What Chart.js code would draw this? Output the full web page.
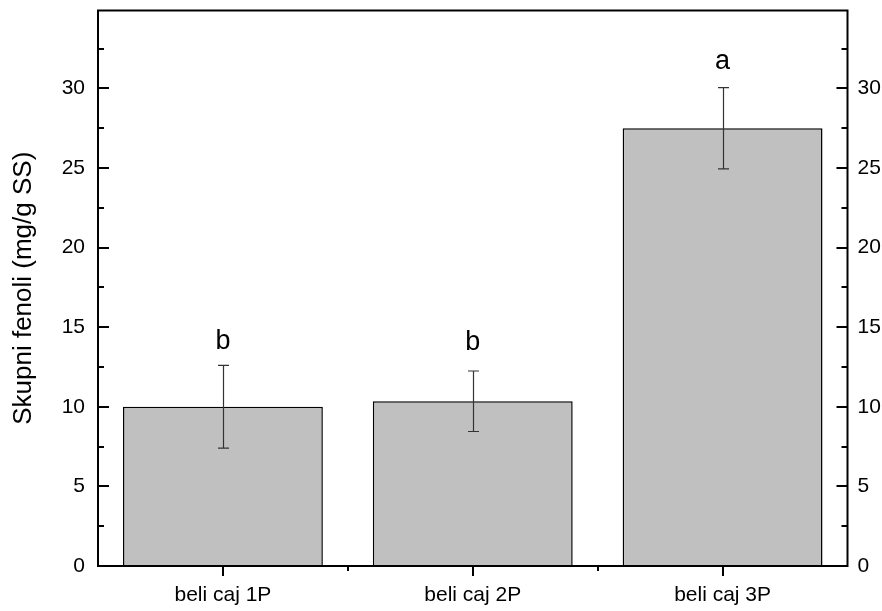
<!DOCTYPE html>
<html>
<head>
<meta charset="utf-8">
<script src="https://cdn.jsdelivr.net/npm/chart.js@4.4.1/dist/chart.umd.min.js"></script>
<style>
  html, body { margin: 0; padding: 0; background: #fff; }
  #wrap { width: 882px; height: 611px; }
</style>
</head>
<body>
<div id="wrap"><canvas id="c" width="882" height="611"></canvas></div>
<script>
const categories = ['beli caj 1P', 'beli caj 2P', 'beli caj 3P'];
const values = [10.0, 10.35, 27.5];
const errors = [2.6, 1.9, 2.55];
const letters = ['b', 'b', 'a'];
const letterY = [13.65, 13.55, 31.2];
const yTicks = [0, 5, 10, 15, 20, 25, 30];
const yMinorTicks = [2.5, 7.5, 12.5, 17.5, 22.5, 27.5, 32.5];
const yTitle = 'Skupni fenoli (mg/g SS)';
const yMax = 34.9;

const FONT = "'Liberation Sans', Arial, sans-serif";

const decor = {
  id: 'decor',
  afterDatasetsDraw(chart) {
    const ctx = chart.ctx;
    const a = chart.chartArea;
    const x = chart.scales.x, y = chart.scales.y;
    ctx.save();
    // error bars
    ctx.strokeStyle = '#333';
    ctx.lineWidth = 1.2;
    values.forEach((v, i) => {
      const px = Math.round(x.getPixelForValue(i)) + 0.5;
      const yt = y.getPixelForValue(v + errors[i]);
      const yb = y.getPixelForValue(v - errors[i]);
      ctx.beginPath();
      ctx.moveTo(px, yt); ctx.lineTo(px, yb);
      ctx.moveTo(px - 5.5, yt); ctx.lineTo(px + 5.5, yt);
      ctx.moveTo(px - 5.5, yb); ctx.lineTo(px + 5.5, yb);
      ctx.stroke();
    });
    // letters
    ctx.fillStyle = '#000';
    ctx.font = '27px ' + FONT;
    ctx.textAlign = 'center';
    ctx.textBaseline = 'alphabetic';
    letters.forEach((t, i) => {
      ctx.fillText(t, x.getPixelForValue(i), y.getPixelForValue(letterY[i]));
    });
    // frame
    ctx.strokeStyle = '#000';
    ctx.lineWidth = 2;
    ctx.strokeRect(a.left, a.top, a.right - a.left, a.bottom - a.top);
    // y ticks inward (left and right)
    ctx.beginPath();
    yTicks.forEach(t => {
      const py = Math.round(y.getPixelForValue(t));
      ctx.moveTo(a.left, py); ctx.lineTo(a.left + 11, py);
      ctx.moveTo(a.right, py); ctx.lineTo(a.right - 11, py);
    });
    yMinorTicks.forEach(t => {
      const py = Math.round(y.getPixelForValue(t));
      ctx.moveTo(a.left, py); ctx.lineTo(a.left + 6, py);
      ctx.moveTo(a.right, py); ctx.lineTo(a.right - 6, py);
    });
    // x ticks outward
    categories.forEach((c, i) => {
      const px = Math.round(x.getPixelForValue(i));
      ctx.moveTo(px, a.bottom); ctx.lineTo(px, a.bottom + 10);
    });
    for (let i = 0; i < categories.length - 1; i++) {
      const px = Math.round((x.getPixelForValue(i) + x.getPixelForValue(i + 1)) / 2);
      ctx.moveTo(px, a.bottom); ctx.lineTo(px, a.bottom + 5);
    }
    ctx.stroke();
    ctx.restore();
  }
};

function noPad(s) { s.paddingTop = 0; s.paddingBottom = 0; s.paddingLeft = 0; s.paddingRight = 0; }

new Chart(document.getElementById('c'), {
  type: 'bar',
  data: {
    labels: categories,
    datasets: [{
      data: values,
      backgroundColor: '#c0c0c0',
      borderColor: '#000',
      borderWidth: 1.5,
      categoryPercentage: 0.8,
      barPercentage: 1.0
    }]
  },
  options: {
    responsive: false,
    animation: false,
    devicePixelRatio: 1,
    layout: { padding: { top: 10.5, left: 0, right: 0, bottom: 0 } },
    plugins: { legend: { display: false }, tooltip: { enabled: false } },
    scales: {
      x: {
        grid: { display: false, drawTicks: false },
        border: { display: false },
        ticks: { color: '#000', font: { family: FONT, size: 21 }, padding: 17, maxRotation: 0 },
        afterFit(s) { s.height = 45; noPad(s); }
      },
      y: {
        position: 'left',
        min: 0, max: yMax,
        afterBuildTicks(s) { s.ticks = yTicks.map(v => ({ value: v })); },
        grid: { display: false, drawTicks: false },
        border: { display: false },
        ticks: { color: '#000', font: { family: FONT, size: 21 }, padding: 13 },
        title: { display: true, text: yTitle, color: '#000', font: { family: FONT, size: 26 }, padding: { top: 8, bottom: 0 } },
        afterFit(s) { s.width = 98; noPad(s); }
      },
      y2: {
        position: 'right',
        min: 0, max: yMax,
        afterBuildTicks(s) { s.ticks = yTicks.map(v => ({ value: v })); },
        grid: { display: false, drawTicks: false },
        border: { display: false },
        ticks: { color: '#000', font: { family: FONT, size: 21 }, padding: 10 },
        afterFit(s) { s.width = 34.5; noPad(s); }
      }
    }
  },
  plugins: [decor]
});
</script>
</body>
</html>
